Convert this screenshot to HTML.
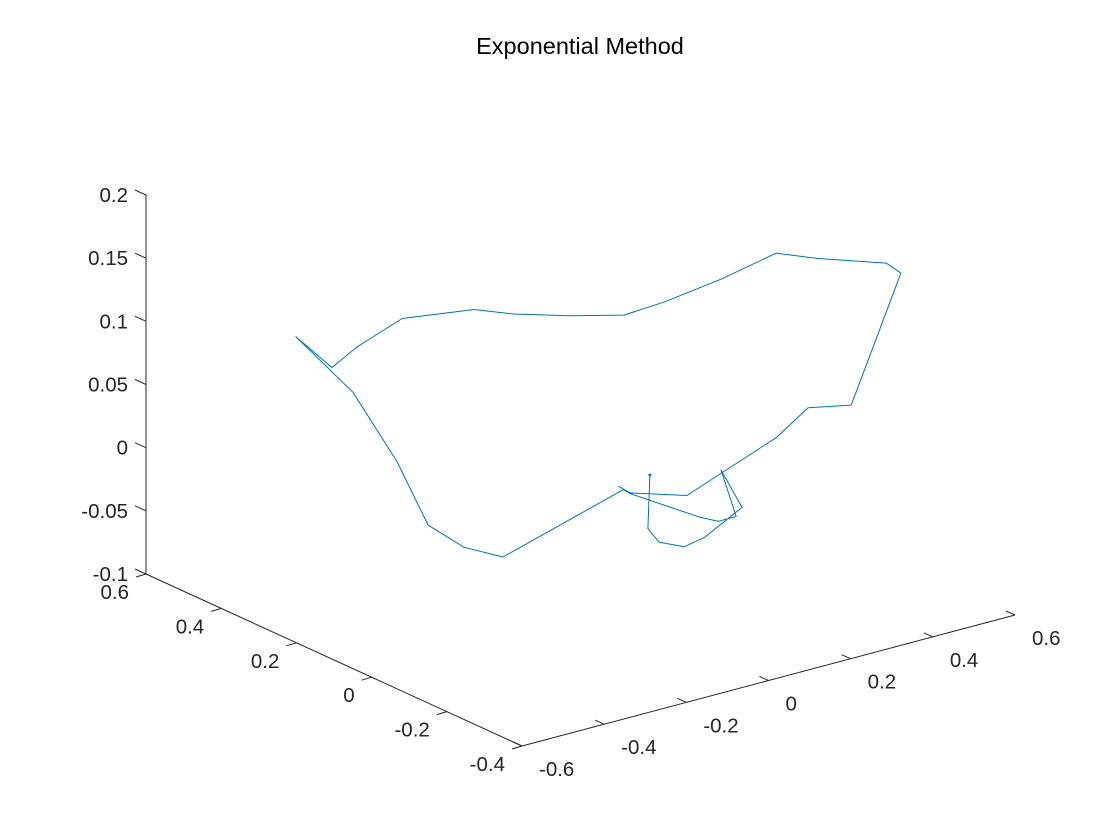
<!DOCTYPE html>
<html><head><meta charset="utf-8">
<style>
html,body{margin:0;padding:0;background:#fff;}
svg{display:block;font-family:"Liberation Sans",sans-serif;}
</style></head>
<body>
<svg id="chart" width="1120" height="840" viewBox="0 0 1120 840">
<rect width="1120" height="840" fill="#fff"/>
<text x="580" y="54" text-anchor="middle" font-size="23.5" fill="#000">Exponential Method</text>
<g id="axes"></g>
<g id="series"></g>
</svg>
<script>
const xTicks = [-0.6,-0.4,-0.2,0,0.2,0.4,0.6];
const xTickLabels = ["-0.6","-0.4","-0.2","0","0.2","0.4","0.6"];
const yTicks = [-0.4,-0.2,0,0.2,0.4,0.6];
const yTickLabels = ["-0.4","-0.2","0","0.2","0.4","0.6"];
const zTicks = [-0.1,-0.05,0,0.05,0.1,0.15,0.2];
const zTickLabels = ["-0.1","-0.05","0","0.05","0.1","0.15","0.2"];
const seriesX = [0.091,0.121,0.259,0.476,0.554,0.659,0.780,0.744,0.578,0.476,0.342,0.206,0.106,-0.028,-0.162,-0.259,-0.434,-0.544,-0.605,-0.693,-0.554,-0.447,-0.371,-0.284,-0.189,-0.106,0.104,0.123,0.291,0.335,0.379,0.342,0.393,0.301,0.252,0.191,0.164,0.169];
const seriesY = [0.1,0.1,0.1,0.1,0.1,0.1,0.1,0.1,0.1,0.1,0.1,0.1,0.1,0.1,0.1,0.1,0.1,0.1,0.1,0.1,0.1,0.1,0.1,0.1,0.1,0.1,0.1,0.1,0.1,0.1,0.1,0.1,0.1,0.1,0.1,0.1,0.1,0.1];
const seriesZ = [-0.022,-0.030,-0.044,-0.017,0.000,-0.007,0.087,0.098,0.116,0.129,0.120,0.114,0.112,0.123,0.136,0.148,0.156,0.143,0.132,0.164,0.108,0.044,-0.013,-0.038,-0.054,-0.046,-0.026,-0.031,-0.064,-0.071,-0.071,-0.031,-0.065,-0.081,-0.084,-0.075,-0.062,-0.020];

const NS="http://www.w3.org/2000/svg";
function proj(x,y,z){
  const px = 522 + (x+0.6)/1.2*493 - (y+0.4)*376;
  const py = 746 - (x+0.6)/1.2*131 - (y+0.4)*172 - (z+0.1)/0.3*379;
  return [px,py];
}
const axes=document.getElementById('axes');
const series=document.getElementById('series');
function line(g,a,b,name){
  const l=document.createElementNS(NS,'line');
  l.setAttribute('x1',a[0]);l.setAttribute('y1',a[1]);
  l.setAttribute('x2',b[0]);l.setAttribute('y2',b[1]);
  l.setAttribute('stroke','#262626');l.setAttribute('stroke-width','1');
  
  
  g.appendChild(l);
}
function text(g,x,y,s,anchor,name){
  const t=document.createElementNS(NS,'text');
  t.setAttribute('x',x);t.setAttribute('y',y);
  t.setAttribute('font-size','20.5');t.setAttribute('fill','#262626');
  t.setAttribute('text-anchor',anchor);
  t.textContent=s;
  
  
  g.appendChild(t);
}
line(axes,proj(-0.6,-0.4,-0.1),proj(0.6,-0.4,-0.1),'x-axis-line');
line(axes,proj(-0.6,-0.4,-0.1),proj(-0.6,0.6,-0.1),'y-axis-line');
line(axes,proj(-0.6,0.6,-0.1),proj(-0.6,0.6,0.2),'z-axis-line');
xTicks.forEach((v,i)=>{
  const p=proj(v,-0.4,-0.1);
  line(axes,p,[p[0]-9,p[1]-4],'x-tick');
  text(axes,p[0]+17,p[1]+30,xTickLabels[i],'start','x-tick-label');
});
yTicks.forEach((v,i)=>{
  const p=proj(-0.6,v,-0.1);
  line(axes,p,[p[0]-10,p[1]+3],'y-tick');
  text(axes,p[0]-17,p[1]+25,yTickLabels[i],'end','y-tick-label');
});
zTicks.forEach((v,i)=>{
  const p=proj(-0.6,0.6,v);
  line(axes,p,[p[0]-11,p[1]-5],'z-tick');
  text(axes,p[0]-18,p[1]+7,zTickLabels[i],'end','z-tick-label');
});
const pts=seriesX.map((x,i)=>proj(x,seriesY[i],seriesZ[i]));
const pl=document.createElementNS(NS,'polyline');
pl.setAttribute('points',pts.map(p=>p[0].toFixed(1)+','+p[1].toFixed(1)).join(' '));
pl.setAttribute('fill','none');pl.setAttribute('stroke','#0072BD');pl.setAttribute('stroke-width','1');
pl.setAttribute('stroke-linejoin','round');


series.appendChild(pl);
const last=pts[pts.length-1];
const dot=document.createElementNS(NS,'circle');
dot.setAttribute('cx',last[0]);dot.setAttribute('cy',last[1]);dot.setAttribute('r','1.5');dot.setAttribute('fill','#0072BD');


series.appendChild(dot);
</script>
</body></html>
